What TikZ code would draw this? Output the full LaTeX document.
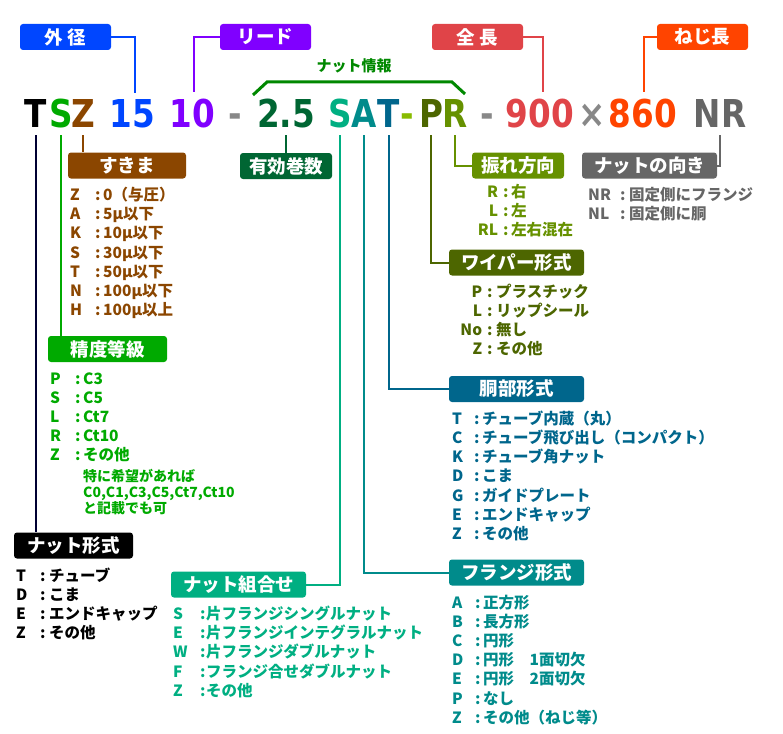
\documentclass[tikz,border=0pt]{standalone}
\usepackage{fontspec}
\usepackage{array}
\usepackage{xcolor}
\setmainfont{Noto Sans CJK JP}
\newfontfamily\codefont{DejaVu Sans}[FakeStretch=0.85]
\usetikzlibrary{calc}

\definecolor{odblue}{HTML}{0046FF}
\definecolor{leadpurple}{HTML}{8000FF}
\definecolor{lenred}{HTML}{E04448}
\definecolor{throrange}{HTML}{FF4400}
\definecolor{infogreen}{HTML}{008800}
\definecolor{gapbrown}{HTML}{8B4600}
\definecolor{turngreen}{HTML}{006633}
\definecolor{precgreen}{HTML}{00AA00}
\definecolor{typenavy}{HTML}{000033}
\definecolor{combteal}{HTML}{00AF82}
\definecolor{flangeteal}{HTML}{008B8B}
\definecolor{bodyblue}{HTML}{00668C}
\definecolor{wiperolive}{HTML}{4D6600}
\definecolor{runolive}{HTML}{669100}
\definecolor{dirgray}{HTML}{666666}
\definecolor{dashgray}{HTML}{888888}
\definecolor{tpdash}{HTML}{88BB00}

\newcolumntype{R}[1]{>{\raggedleft\arraybackslash}p{#1}}

\tikzset{
  tag box/.style   = {rounded corners=3pt, minimum height=26pt, inner sep=0pt,
                      text=white, font=\fontsize{18.5}{20}\selectfont\bfseries},
  code char/.style = {font=\codefont\bfseries\fontsize{38.4}{40}\selectfont,
                      anchor=base, inner xsep=0pt, inner ysep=7pt, text depth=0pt},
  list node/.style = {anchor=base west, inner sep=0pt,
                      font=\fontsize{15.5}{19.2}\selectfont\bfseries},
  note node/.style = {anchor=base west, inner sep=0pt,
                      font=\fontsize{14}{16}\selectfont\bfseries},
  link/.style      = {line width=2pt},
}

\begin{document}
\begin{tikzpicture}[x=1pt, y=-1pt]
  \useasboundingbox (0,0) rectangle (783,733);

  % model code
  \node[code char]                    (cT)     at (36,128)  {T};
  \node[code char, text=precgreen]    (cS)     at (61,128)  {S};
  \node[code char, text=gapbrown]     (cZ)     at (83,128)  {Z};
  \node[code char, text=odblue]       (c15)    at (132,128) {15};
  \node[code char, text=leadpurple]   (c10)    at (192,128) {10};
  \node[code char, text=dashgray]     (cd1)    at (235,128) {-};
  \node[code char, text=turngreen]    (cPitch) at (286,128) {2.5};
  \node[code char, text=combteal]     (cSc)    at (340,128) {S};
  \node[code char, text=flangeteal]   (cAf)    at (364,128) {A};
  \node[code char, text=bodyblue]     (cTb)    at (389,128) {T};
  \node[code char, text=tpdash]       (cd2)    at (407,128) {-};
  \node[code char, text=wiperolive]   (cPw)    at (431,128) {P};
  \node[code char, text=runolive]     (cRr)    at (455,128) {R};
  \node[code char, text=dashgray]     (cd3)    at (487,128) {-};
  \node[code char, text=lenred]       (c900)   at (540,128) {900};
  \node[code char, text=dashgray]     (cx)     at (592,128) {×};
  \node[code char, text=throrange]    (c860)   at (643,128) {860};
  \node[code char, text=dirgray]      (cNR)    at (720,128) {NR};

  % tags above
  \node[tag box, fill=odblue, minimum width=91pt]     (tOD)   at (65.5,37)  {外 径};
  \node[tag box, fill=leadpurple, minimum width=91pt] (tLead) at (265.5,37) {リード};
  \node[tag box, fill=lenred, minimum width=91pt]     (tLen)  at (477.5,37) {全 長};
  \node[tag box, fill=throrange, minimum width=91pt]  (tThr)  at (702.5,37) {ねじ長};

  \draw[link, odblue]     (tOD.east)   -| ([xshift=3pt]c15.north);
  \draw[link, leadpurple] (tLead.west) -| ([xshift=2pt]c10.north);
  \draw[link, lenred]     (tLen.east)  -| ([xshift=3pt]c900.north);
  \draw[link, throrange]  (tThr.west)  -| ([xshift=1pt]c860.north);

  \node[font=\fontsize{15}{16}\selectfont\bfseries, text=infogreen, inner sep=0pt] (info) at (354,66) {ナット情報};
  \draw[line width=3pt, infogreen] (253,95) -- (267,82) -- (452,82) -- (465,94);

  % tags below
  \node[tag box, fill=gapbrown, minimum width=118pt]   (tGap)    at (127,165.5)   {すきま};
  \node[tag box, fill=turngreen, minimum width=92pt]   (tTurns)  at (286,166)     {有効巻数};
  \node[tag box, fill=runolive, minimum width=92pt]    (tRun)    at (518,165.5)   {振れ方向};
  \node[tag box, fill=dirgray, minimum width=135pt]    (tDir)    at (649.5,165.5) {ナットの向き};
  \node[tag box, fill=wiperolive, minimum width=135pt] (tWiper)  at (516.5,262.5) {ワイパー形式};
  \node[tag box, fill=precgreen, minimum width=119pt]  (tPrec)   at (107.5,349)   {精度等級};
  \node[tag box, fill=bodyblue, minimum width=135pt]   (tBody)   at (516.5,389)   {胴部形式};
  \node[tag box, fill=black, minimum width=119pt]      (tType)   at (73.5,545.5)  {ナット形式};
  \node[tag box, fill=flangeteal, minimum width=135pt] (tFlange) at (516.5,572.5) {フランジ形式};
  \node[tag box, fill=combteal, minimum width=135pt]   (tComb)   at (238.5,584.5) {ナット組合せ};

  \draw[link, typenavy]   (cT.south)     -- (cT.south |- tType.north);
  \draw[link, precgreen]  (cS.south)     -- (cS.south |- tPrec.north);
  \draw[link, gapbrown]   (cZ.south)     -- (cZ.south |- tGap.north);
  \draw[link, turngreen]  (cPitch.south) -- (cPitch.south |- tTurns.north);
  \draw[link, combteal]   (cSc.south) |- (tComb.east);
  \draw[link, flangeteal] (cAf.south) |- (tFlange.west);
  \draw[link, bodyblue]   (cTb.south) |- (tBody.west);
  \draw[link, wiperolive] (cPw.south) |- (tWiper.west);
  \draw[link, runolive]   (cRr.south) |- (tRun.west);
  \draw[link, dirgray]    (cNR.south) |- (tDir.east);

  % lists
  \node[list node, text=gapbrown] (gapList) at (70,200.5) {%
    \begin{tabular}[t]{@{}p{25pt}@{}p{8pt}@{}l@{}}
      Z & : & 0（与圧）\\
      A & : & 5μ以下\\
      K & : & 10μ以下\\
      S & : & 30μ以下\\
      T & : & 50μ以下\\
      N & : & 100μ以下\\
      H & : & 100μ以上
    \end{tabular}};
  \node[list node, text=precgreen] (precList) at (50,384) {%
    \begin{tabular}[t]{@{}p{25pt}@{}p{8pt}@{}l@{}}
      P & : & C3\\
      S & : & C5\\
      L & : & Ct7\\
      R & : & Ct10\\
      Z & : & その他
    \end{tabular}};
  \node[note node, text=precgreen] (precNote) at (83,481) {%
    \begin{tabular}[t]{@{}l@{}}
      特に希望があれば\\
      C0,C1,C3,C5,Ct7,Ct10\\
      と記載でも可
    \end{tabular}};
  \node[list node] (typeList) at (16,581) {%
    \begin{tabular}[t]{@{}p{24pt}@{}p{9pt}@{}l@{}}
      T & : & チューブ\\
      D & : & こま\\
      E & : & エンドキャップ\\
      Z & : & その他
    \end{tabular}};
  \node[list node, text=combteal] (combList) at (173,619) {%
    \begin{tabular}[t]{@{}p{27pt}@{}p{6pt}@{}l@{}}
      S & : & 片フランジシングルナット\\
      E & : & 片フランジインテグラルナット\\
      W & : & 片フランジダブルナット\\
      F & : & フランジ合せダブルナット\\
      Z & : & その他
    \end{tabular}};
  \node[list node, text=runolive] (runList) at (468,197) {%
    \begin{tabular}[t]{@{}R{30pt}@{\hspace{5pt}}p{8pt}@{}l@{}}
      R & : & 右\\
      L & : & 左\\
      RL & : & 左右混在
    \end{tabular}};
  \node[list node, text=dirgray] (dirList) at (588,200) {%
    \begin{tabular}[t]{@{}p{32pt}@{}p{9pt}@{}l@{}}
      NR & : & 固定側にフランジ\\
      NL & : & 固定側に胴
    \end{tabular}};
  \node[list node, text=wiperolive] (wiperList) at (452,297) {%
    \begin{tabular}[t]{@{}R{30pt}@{\hspace{5pt}}p{9pt}@{}l@{}}
      P & : & プラスチック\\
      L & : & リップシール\\
      No & : & 無し\\
      Z & : & その他
    \end{tabular}};
  \node[list node, text=bodyblue] (bodyList) at (452,424) {%
    \begin{tabular}[t]{@{}p{22pt}@{}p{8pt}@{}l@{}}
      T & : & チューブ内蔵（丸）\\
      C & : & チューブ飛び出し（コンパクト）\\
      K & : & チューブ角ナット\\
      D & : & こま\\
      G & : & ガイドプレート\\
      E & : & エンドキャップ\\
      Z & : & その他
    \end{tabular}};
  \node[list node, text=flangeteal] (flangeList) at (452,608) {%
    \begin{tabular}[t]{@{}p{23pt}@{}p{8pt}@{}l@{}}
      A & : & 正方形\\
      B & : & 長方形\\
      C & : & 円形\\
      D & : & 円形　1面切欠\\
      E & : & 円形　2面切欠\\
      P & : & なし\\
      Z & : & その他（ねじ等）
    \end{tabular}};
\end{tikzpicture}
\end{document}
